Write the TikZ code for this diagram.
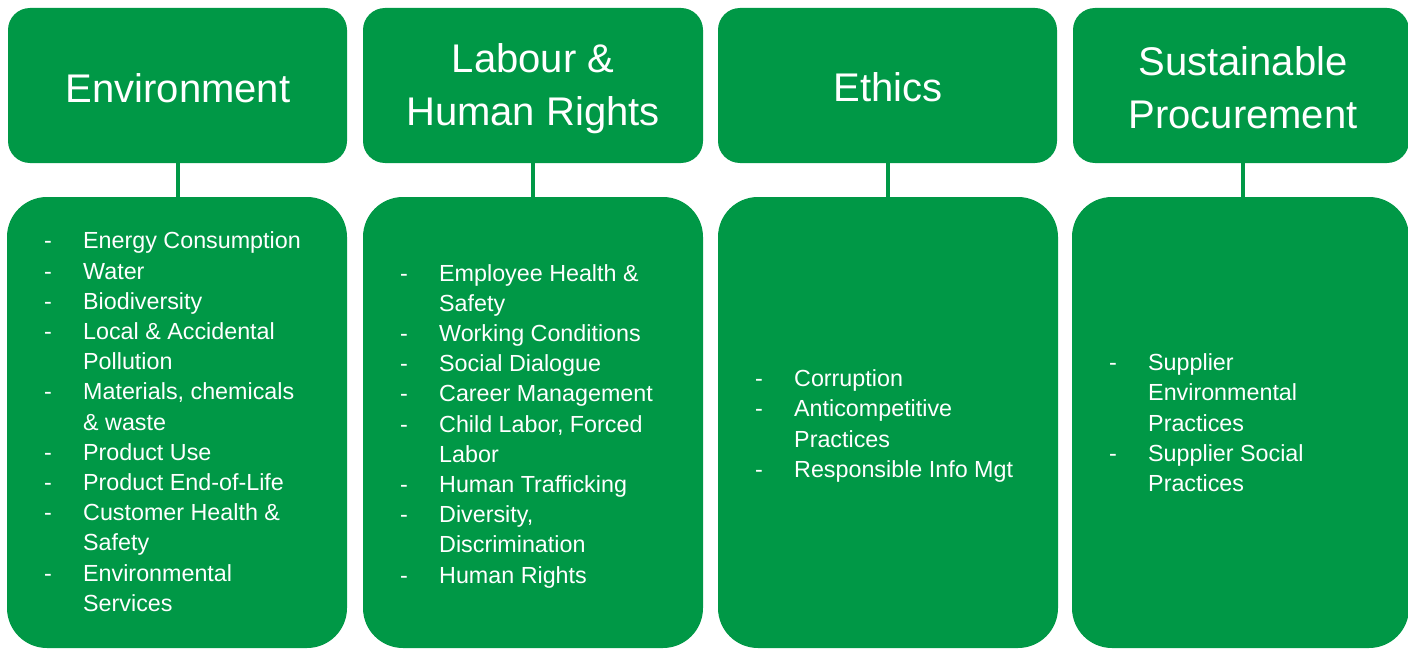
\documentclass[tikz,border=0pt]{standalone}
\usepackage{fontspec}
\setmainfont{Liberation Sans}
\usepackage{array}
\definecolor{esggreen}{RGB}{0,152,70}
\tikzset{
  headbox/.style={fill=esggreen, draw=none, rounded corners=22pt},
  listbox/.style={fill=esggreen, draw=none, rounded corners=40pt},
  headtext/.style={text=white, align=center, inner sep=0pt, font=\fontsize{40}{53}\selectfont},
  listtext/.style={text=white, anchor=west, inner sep=0pt, font=\fontsize{23.3}{30.2}\selectfont},
  link/.style={draw=esggreen, line width=4pt}
}
\newcommand{\itemlist}[1]{\begin{tabular}{@{}>{\raggedright\arraybackslash}p{39pt}@{}l@{}}#1\end{tabular}}
\begin{document}
\begin{tikzpicture}[x=1pt,y=-1pt]
\useasboundingbox (0,0) rectangle (1408,650);
% top boxes
\path[headbox] (8,8) rectangle (347,163);
\path[headbox] (363,8) rectangle (703,163);
\path[headbox] (718,8) rectangle (1057,163);
\path[headbox] (1073,8) rectangle (1409,163);
% bottom boxes
\path[listbox] (7,197) rectangle (347,648);
\path[listbox] (363,197) rectangle (703,648);
\path[listbox] (718,197) rectangle (1058,648);
\path[listbox] (1072,197) rectangle (1409,648);
% anchors
\coordinate (envb) at (178,163); \coordinate (envt) at (178,197);
\coordinate (labb) at (533,163); \coordinate (labt) at (533,197);
\coordinate (ethb) at (888,163); \coordinate (etht) at (888,197);
\coordinate (spb) at (1243,163); \coordinate (spt) at (1243,197);
\draw[link] (envb) -- (envt);
\draw[link] (labb) -- (labt);
\draw[link] (ethb) -- (etht);
\draw[link] (spb) -- (spt);
% titles
\node[headtext] (envh) at (178,88) {Environment};
\node[headtext] (labh) at (533,89) {Labour \&\\Human Rights};
\node[headtext] (ethh) at (888,87) {Ethics};
\node[headtext] (sph) at (1243,88) {Sustainable\\Procurement};
% lists
\node[listtext] (envl) at (44,424) {\itemlist{
-&Energy Consumption\\
-&Water\\
-&Biodiversity\\
-&Local \& Accidental\\
&Pollution\\
-&Materials, chemicals\\
&\& waste\\
-&Product Use\\
-&Product End-of-Life\\
-&Customer Health \&\\
&Safety\\
-&Environmental\\
&Services}};
\node[listtext] (labl) at (400,426) {\itemlist{
-&Employee Health \&\\
&Safety\\
-&Working Conditions\\
-&Social Dialogue\\
-&Career Management\\
-&Child Labor, Forced\\
&Labor\\
-&Human Trafficking\\
-&Diversity,\\
&Discrimination\\
-&Human Rights}};
\node[listtext] (ethl) at (755,426) {\itemlist{
-&Corruption\\
-&Anticompetitive\\
&Practices\\
-&Responsible Info Mgt}};
\node[listtext] (spl) at (1109,425) {\itemlist{
-&Supplier\\
&Environmental\\
&Practices\\
-&Supplier Social\\
&Practices}};
\end{tikzpicture}
\end{document}
